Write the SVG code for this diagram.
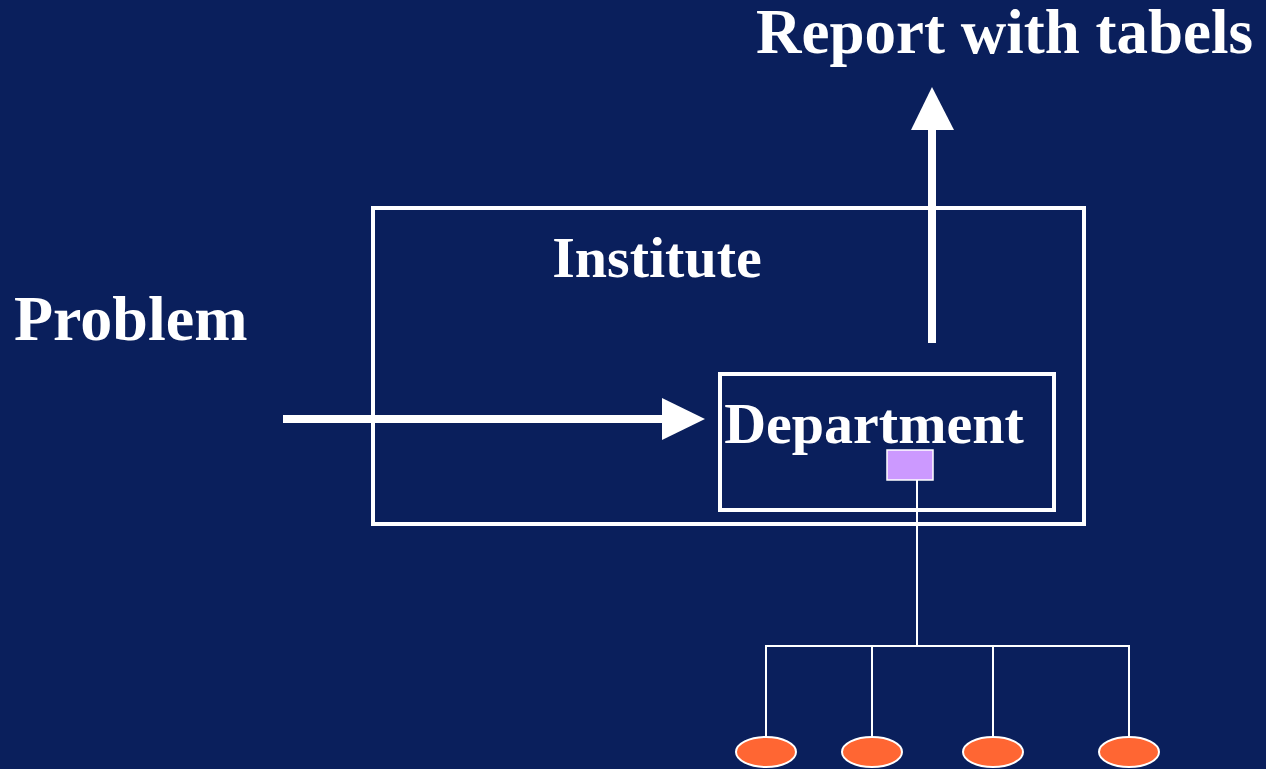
<svg xmlns="http://www.w3.org/2000/svg" width="1266" height="769" viewBox="0 0 1266 769">
  <style>
    .lbl { font-family: "Liberation Serif", "Times New Roman", serif; font-weight: bold; fill: #ffffff; }
    .big { font-size: 64px; }
    .mid { font-size: 58px; }
    .box { fill: none; stroke: #ffffff; stroke-width: 4; }
    .thin { fill: none; stroke: #ffffff; stroke-width: 2; }
    .unit { fill: #ff6633; stroke: #ffffff; stroke-width: 2; }
  </style>
  <rect width="1266" height="769" fill="#0a1f5c"/>

  <g id="institute">
    <rect class="box" x="373" y="208" width="711" height="316"/>
    <text class="lbl mid" x="657" y="277" text-anchor="middle">Institute</text>
  </g>

  <g id="department">
    <rect class="box" x="720" y="374" width="334" height="136"/>
    <text class="lbl mid" x="874" y="443" text-anchor="middle">Department</text>
  </g>

  <g id="problem">
    <text class="lbl big" x="14" y="340">Problem</text>
  </g>

  <g id="report">
    <text class="lbl" font-size="63" x="756" y="53">Report with tabels</text>
  </g>

  <g id="hub">
    <rect x="887" y="450" width="46" height="30" fill="#cc99ff" stroke="#ffffff" stroke-width="1.5"/>
  </g>

  <g id="unit1"><ellipse class="unit" cx="766" cy="752" rx="30" ry="15"/></g>
  <g id="unit2"><ellipse class="unit" cx="872" cy="752" rx="30" ry="15"/></g>
  <g id="unit3"><ellipse class="unit" cx="993" cy="752" rx="30" ry="15"/></g>
  <g id="unit4"><ellipse class="unit" cx="1129" cy="752" rx="30" ry="15"/></g>

  <g id="connectors">
    <!-- problem arrow into the department -->
    <line x1="283" y1="419" x2="666" y2="419" stroke="#ffffff" stroke-width="8"/>
    <polygon points="662,398 705,419 662,440" fill="#ffffff"/>
    <!-- report arrow out of the institute -->
    <line x1="932" y1="343" x2="932" y2="126" stroke="#ffffff" stroke-width="8"/>
    <polygon points="911,130 932,87 954,130" fill="#ffffff"/>
    <!-- hub tree down to the units -->
    <line class="thin" x1="917" y1="480" x2="917" y2="646"/>
    <polyline class="thin" points="766,737 766,646 1129,646 1129,737"/>
    <line class="thin" x1="872" y1="646" x2="872" y2="737"/>
    <line class="thin" x1="993" y1="646" x2="993" y2="737"/>
  </g>
</svg>
